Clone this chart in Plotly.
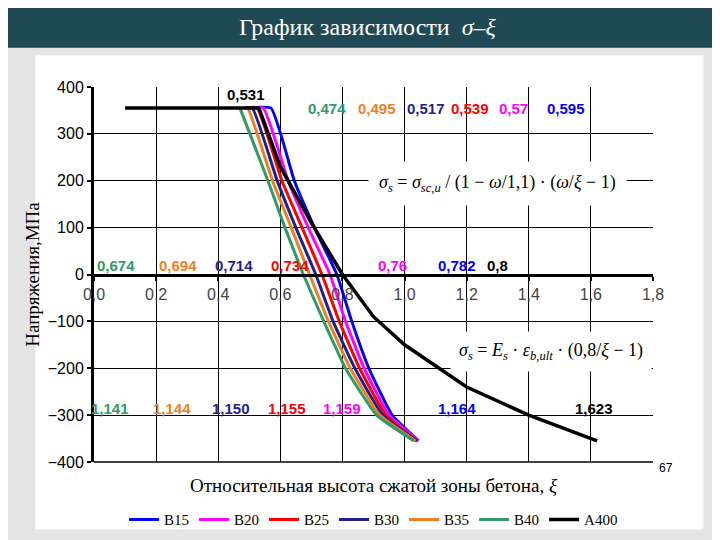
import plotly.graph_objects as go

# data
names = ["B15", "B20", "B25", "B30", "B35", "B40", "A400"]
colors = ["#0000ff", "#ff00ff", "#ff0000", "#1f1f8f", "#f07f1f", "#2f9a6a", "#000000"]
y_conc = [355, 355, 200, 100, 0, -100, -200, -300, -355]
x_b15 = [0.49, 0.57, 0.645, 0.71, 0.782, 0.83, 0.885, 0.96, 1.045]
x_b20 = [0.49, 0.545, 0.625, 0.69, 0.76, 0.81, 0.87, 0.95, 1.045]
x_b25 = [0.485, 0.525, 0.605, 0.67, 0.734, 0.79, 0.855, 0.94, 1.04]
x_b30 = [0.485, 0.51, 0.59, 0.65, 0.714, 0.77, 0.84, 0.93, 1.04]
x_b35 = [0.485, 0.495, 0.575, 0.635, 0.694, 0.755, 0.825, 0.92, 1.035]
x_b40 = [0.47, 0.47, 0.56, 0.615, 0.674, 0.74, 0.81, 0.91, 1.03]
x_a400 = [0.1, 0.531, 0.6, 0.7, 0.8, 0.9, 1.0, 1.2, 1.4, 1.62]
y_a400 = [355, 355, 230, 110, 0, -90, -150, -240, -300, -355]

top_labels = ["0,474", "0,495", "0,517", "0,539", "0,57", "0,595"]
zero_labels = ["0,674", "0,694", "0,714", "0,734", "0,76", "0,782"]
bot_labels = ["1,141", "1,144", "1,150", "1,155", "1,159", "1,164"]

fig = go.Figure()
xs = [x_b15, x_b20, x_b25, x_b30, x_b35, x_b40]
for i in range(6):
    fig.add_trace(go.Scatter(x=xs[i], y=y_conc, mode="lines", name=names[i],
                             line=dict(color=colors[i], width=3, shape="spline", smoothing=0.4)))
fig.add_trace(go.Scatter(x=x_a400, y=y_a400, mode="lines", name="A400",
                         line=dict(color="black", width=3.5)))

fig.update_layout(
    width=720, height=540, margin=dict(l=86, r=75, t=79, b=66),
    paper_bgcolor="#e4e4e4", plot_bgcolor="white", showlegend=True,
    font=dict(family="Liberation Serif", color="black"),
    legend=dict(orientation="h", x=0.5, xanchor="center", y=-0.11, yanchor="top",
                font=dict(size=15), bgcolor="rgba(0,0,0,0)"),
    xaxis=dict(range=[0, 1.8], dtick=0.2, tickformat=".1f", anchor="free", position=0.5,
               showgrid=True, gridcolor="black", gridwidth=1, zeroline=False,
               showline=True, linecolor="black", linewidth=3, ticks="outside",
               tickcolor="black", ticklen=4, tickwidth=2,
               tickfont=dict(family="Liberation Sans", size=16, color="#444")),
    yaxis=dict(range=[-400, 400], dtick=100, showgrid=True, gridcolor="black", gridwidth=1,
               zeroline=False, showline=True, linecolor="black", linewidth=3,
               ticks="outside", tickcolor="black", tickwidth=2, ticklen=4,
               tickfont=dict(family="Liberation Sans", size=16),
               title=dict(text="Напряжения,МПа", font=dict(size=19), standoff=4)),
    separators=", ",
)

shapes = [
    dict(type="rect", xref="paper", yref="paper", x0=-0.105, x1=1.09, y0=-0.18, y1=1.085,
         fillcolor="white", line=dict(width=0), layer="below"),
    dict(type="rect", xref="paper", yref="paper", x0=-0.2, x1=1.2, y0=1.105, y1=1.3,
         fillcolor="#1f4a55", line=dict(width=0), layer="below"),
    dict(type="line", xref="paper", yref="paper", x0=0, x1=1, y0=0, y1=0,
         line=dict(color="black", width=1.5)),
]
fig.update_layout(shapes=shapes)

ann = [dict(text="График зависимости  <i>σ–ξ</i>", xref="paper", yref="paper", x=0.49, y=1.16,
            yanchor="middle", showarrow=False,
            font=dict(size=24, color="white", family="Liberation Serif")),
       dict(text="Относительная высота сжатой зоны бетона, <i>ξ</i>", xref="paper", yref="paper",
            x=0.5, y=-0.063, yanchor="middle", showarrow=False, font=dict(size=19)),
       dict(text="67", xref="paper", yref="paper", x=1.04, y=-0.04, showarrow=False,
            font=dict(size=12, family="Liberation Sans")),
       dict(text="<i>σ<sub>s</sub></i> = <i>σ<sub>sc,u</sub></i> / (1 − <i>ω</i>/1,1) · (<i>ω</i>/<i>ξ</i> − 1)",
            x=1.3, y=195, showarrow=False, bgcolor="white", font=dict(size=18), borderpad=10),
       dict(text="<i>σ<sub>s</sub></i> = <i>E<sub>s</sub></i> · <i>ε<sub>b,ult</sub></i> · (0,8/<i>ξ</i> − 1)",
            x=1.47, y=-165, showarrow=False, bgcolor="white", font=dict(size=18), borderpad=8),
       dict(text="<b>0,531</b>", x=0.49, y=385, showarrow=False,
            font=dict(size=15, family="Liberation Sans")),
       dict(text="<b>0,8</b>", x=1.3, y=20, showarrow=False, font=dict(size=15, family="Liberation Sans")),
       dict(text="<b>1,623</b>", x=1.61, y=-285, showarrow=False, font=dict(size=15, family="Liberation Sans"))]
order = [5, 4, 3, 2, 1, 0]
top_x = [0.75, 0.91, 1.07, 1.21, 1.35, 1.52]
zero_x = [0.07, 0.27, 0.45, 0.63, 0.96, 1.17]
bot_x = [0.05, 0.25, 0.44, 0.62, 0.8, 1.17]
for k, i in enumerate(order):
    c = colors[i]
    ann.append(dict(text="<b>" + top_labels[k] + "</b>", x=top_x[k], y=355, showarrow=False,
                    font=dict(size=15, color=c, family="Liberation Sans")))
    ann.append(dict(text="<b>" + zero_labels[k] + "</b>", x=zero_x[k], y=20, showarrow=False,
                    font=dict(size=15, color=c, family="Liberation Sans")))
    ann.append(dict(text="<b>" + bot_labels[k] + "</b>", x=bot_x[k], y=-285, showarrow=False,
                    font=dict(size=15, color=c, family="Liberation Sans")))
fig.update_layout(annotations=ann)

fig.write_html("out.html")
